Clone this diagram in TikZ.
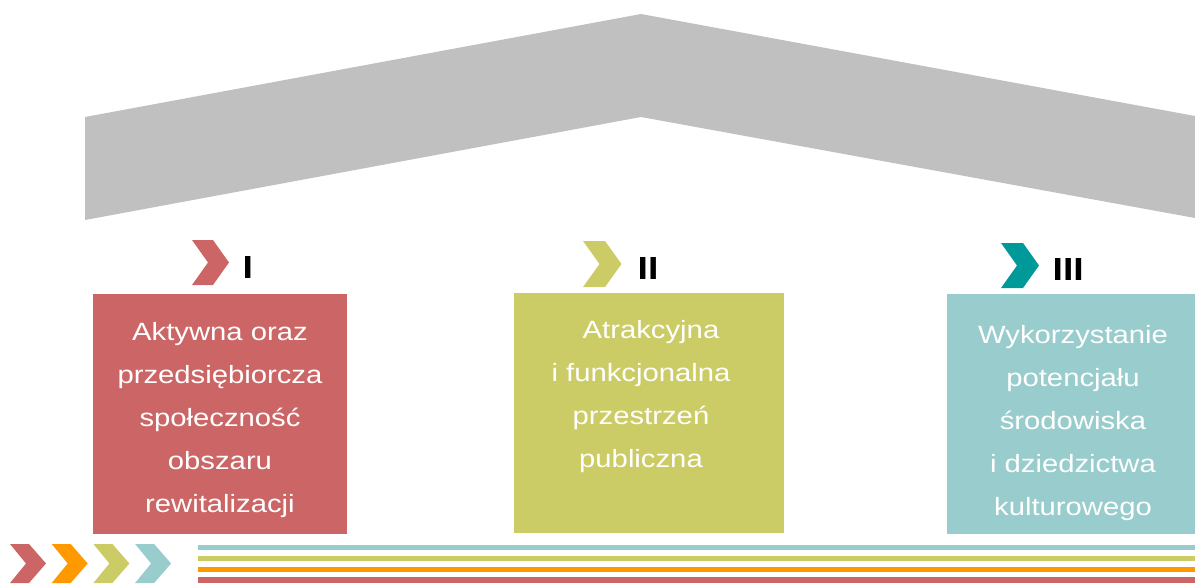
\documentclass[tikz,border=0pt]{standalone}
\usepackage{fontspec}
\setmainfont[FakeStretch=1.17]{Liberation Sans}
\definecolor{redc}{RGB}{204,102,102}
\definecolor{olivec}{RGB}{204,204,102}
\definecolor{tealc}{RGB}{153,204,204}
\definecolor{darktealc}{RGB}{0,153,153}
\definecolor{orangec}{RGB}{255,153,0}
\definecolor{roofc}{RGB}{192,192,192}
\begin{document}
\begin{tikzpicture}[x=1pt,y=-1pt,inner sep=0pt,outer sep=0pt,
pillar/.style={rectangle,minimum width=#1,minimum height=240},
pillartext/.style={anchor=north,align=center,text=white,font=\fontsize{25}{43}\selectfont},
numlabel/.style={anchor=base west,font=\bfseries\fontsize{32}{32}\selectfont}]
\useasboundingbox (0,0) rectangle (1195,584);
% roof
\fill[roofc] (85,117) -- (641,14) -- (1195,116) -- (1195,218) -- (641,117) -- (85,220) -- cycle;
% pillars
\node[pillar=254,fill=redc] (P1) at (220,413.5) {};
\node[pillar=270,fill=olivec] (P2) at (649,413) {};
\node[pillar=248,fill=tealc] (P3) at (1071,413.5) {};
\node[pillartext] (T1) at (220,322) {Aktywna oraz\\przedsiębiorcza\\społeczność\\obszaru\\rewitalizacji};
\node[pillartext] (T2) at (641,320) {\hspace*{20pt}Atrakcyjna\\i funkcjonalna\\przestrzeń\\publiczna};
\node[pillartext] (T3) at (1073,325) {Wykorzystanie\\potencjału\\środowiska\\i dziedzictwa\\kulturowego};
% numbered chevrons
\fill[redc] (192,240) -- ++(21,0) -- ++(16,22.5) -- ++(-16,22.5) -- ++(-21,0) -- ++(16,-22.5) -- cycle;
\fill[olivec] (583,241) -- ++(22,0) -- ++(16.5,23) -- ++(-16.5,23) -- ++(-22,0) -- ++(16.5,-23) -- cycle;
\fill[darktealc] (1001,243) -- ++(22,0) -- ++(16,22.5) -- ++(-16,22.5) -- ++(-22,0) -- ++(16,-22.5) -- cycle;
\node[numlabel] (L1) at (242.6,278) {I};
\node[numlabel] (L2) at (637.6,279) {II};
\node[numlabel] (L3) at (1052.6,280) {III};
% bottom chevrons and stripes
\foreach \c [count=\i from 0] in {redc,orangec,olivec,tealc}
  \fill[\c] ({10+41.7*\i},544) -- ++(19,0) -- ++(17,19.5) -- ++(-17,19.5) -- ++(-19,0) -- ++(16,-19.5) -- cycle;
\foreach \c/\y in {tealc/547.5,olivec/558.5,orangec/569.5,redc/580}
  \fill[\c] (198,\y-2.7) rectangle (1195,\y+2.7);
\end{tikzpicture}
\end{document}
